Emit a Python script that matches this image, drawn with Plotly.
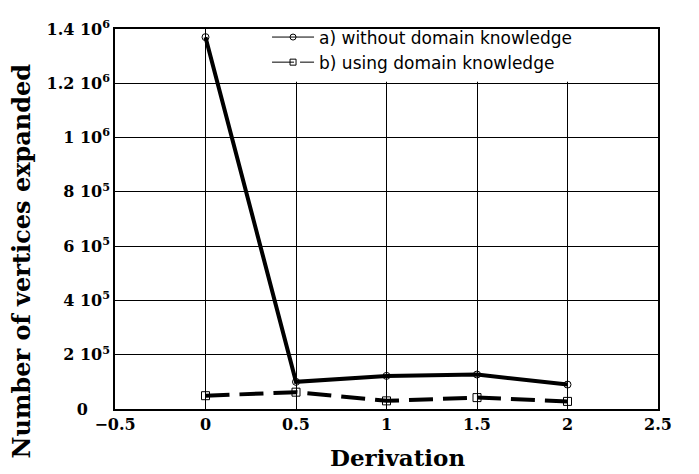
import plotly.graph_objects as go

derivation = [0, 0.5, 1, 1.5, 2]
without_dk = [1370000, 100000, 122000, 127000, 90000]
with_dk = [49000, 62000, 30000, 42000, 28000]

series_names = ["a) without domain knowledge", "b) using domain knowledge"]
x_tickvals = [-0.5, 0, 0.5, 1, 1.5, 2, 2.5]
x_ticktext = ["\u22120.5", "0", "0.5", "1", "1.5", "2", "2.5"]
y_tickvals = [0, 200000, 400000, 600000, 800000, 1000000, 1200000, 1400000]
y_ticktext = ["0\u00a0\u00a0\u00a0\u00a0", "2 10<sup>5</sup>", "4 10<sup>5</sup>", "6 10<sup>5</sup>",
              "8 10<sup>5</sup>", "1 10<sup>6</sup>", "1.2 10<sup>6</sup>", "1.4 10<sup>6</sup>"]

serif = "DejaVu Serif"

fig = go.Figure()
# data traces (not shown in legend)
fig.add_trace(go.Scatter(
    x=derivation, y=without_dk, mode="lines+markers", showlegend=False,
    name=series_names[0], legendgroup="a",
    line=dict(color="black", width=4),
    marker=dict(symbol="circle-open", size=7, color="black", line=dict(width=1)),
))
fig.add_trace(go.Scatter(
    x=derivation, y=with_dk, mode="lines+markers", showlegend=False,
    name=series_names[1], legendgroup="b",
    line=dict(color="black", width=4, dash="24px,10px"),
    marker=dict(symbol="square-open", size=8, color="black", line=dict(width=1)),
))
# legend entries (thin sample lines as in the reference)
fig.add_trace(go.Scatter(
    x=[None], y=[None], mode="lines+markers", name=series_names[0], legendgroup="a",
    line=dict(color="black", width=1),
    marker=dict(symbol="circle-open", size=6, color="black", line=dict(width=1)),
))
fig.add_trace(go.Scatter(
    x=[None], y=[None], mode="lines+markers", name=series_names[1], legendgroup="b",
    line=dict(color="black", width=1, dash="22px,6px"),
    marker=dict(symbol="square-open", size=6, color="black", line=dict(width=1)),
))

# white area behind legend (hides gridlines)
fig.add_shape(type="rect", xref="x", yref="y", x0=0.02, x1=2.5, y0=1206000, y1=1400000,
              fillcolor="white", line=dict(width=0), layer="between")

fig.add_annotation(text="<b>Number of vertices expanded</b>", xref="paper", yref="paper",
                   x=-0.172, y=0.39, xanchor="center", yanchor="middle", textangle=-90,
                   showarrow=False, font=dict(family=serif, size=24, color="black"))
fig.add_annotation(text="<b>Derivation</b>", xref="paper", yref="paper",
                   x=0.521, y=-0.127, xanchor="center", yanchor="middle",
                   showarrow=False, font=dict(family=serif, size=23, color="black"))

fig.update_layout(
    width=691, height=466,
    margin=dict(l=107, r=41, t=11, b=65),
    plot_bgcolor="white", paper_bgcolor="white",
    showlegend=True,
    legend=dict(x=0.28, y=1.025, xanchor="left", yanchor="top",
                bgcolor="rgba(0,0,0,0)", font=dict(family="DejaVu Sans", size=17, color="black"),
                itemwidth=42, tracegroupgap=0, borderwidth=0),
    xaxis=dict(range=[-0.5, 2.5], tickvals=x_tickvals, ticktext=x_ticktext,
               showgrid=True, gridcolor="black", gridwidth=1,
               showline=True, linecolor="black", linewidth=1.5, mirror=True,
               zeroline=False, ticks="", automargin=False, ticklabeloverflow="allow",
               tickfont=dict(family=serif, size=16, color="black", weight="bold")),
    yaxis=dict(range=[0, 1400000], tickvals=y_tickvals, ticktext=y_ticktext,
               showgrid=True, gridcolor="black", gridwidth=1,
               showline=True, linecolor="black", linewidth=1.5, mirror=True,
               zeroline=False, ticks="", automargin=False, ticklabeloverflow="allow",
               tickfont=dict(family=serif, size=16, color="black", weight="bold")),
)

fig.write_html("out.html")
